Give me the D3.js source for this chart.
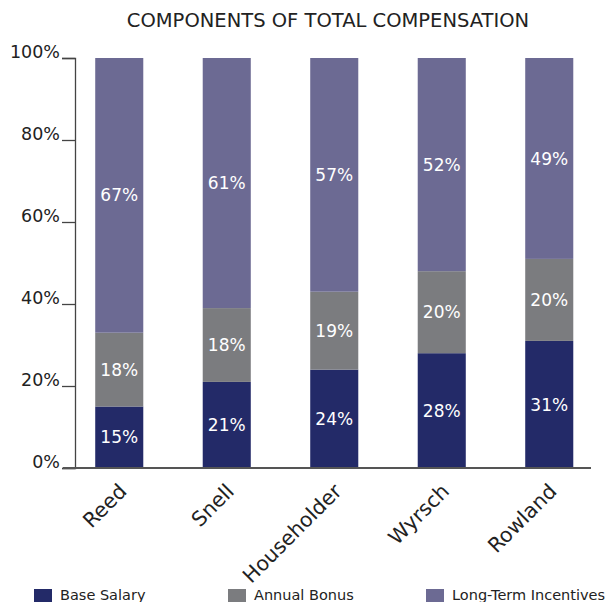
<!DOCTYPE html>
<html>
<head>
<meta charset="utf-8">
<script src="https://cdn.jsdelivr.net/npm/d3@7"></script>
<style>
  body { margin: 0; background: #fff; }
  text { font-family: "DejaVu Sans", sans-serif; }
</style>
</head>
<body>
<script>
"use strict";
(function(){
    // chart data
    const people = ["Reed", "Snell", "Householder", "Wyrsch", "Rowland"]
    const baseSalary = [15, 21, 24, 28, 31]
    const annualBonus = [18, 18, 19, 20, 20]
    const longTerm = [67, 61, 57, 52, 49]
    const seriesNames = ["Base Salary", "Annual Bonus", "Long-Term Incentives"]
    const yTicks = [0, 20, 40, 60, 80, 100]

    const colors = ["#232a68", "#7b7c7f", "#6c6a93"]

    const measurements = {
        width: 613,
        height: 602,
        top: 58,
        bottom: 468,
        axisX: 75
    }

    const svg = d3.select('body').append('svg')
        .attr('width', measurements.width)
        .attr('height', measurements.height)

    // build rows for stacking
    const rows = people.map((p, i) => ({
        name: p,
        "Base Salary": baseSalary[i],
        "Annual Bonus": annualBonus[i],
        "Long-Term Incentives": longTerm[i]
    }))
    const stacked = d3.stack().keys(seriesNames)(rows)

    const scaleX = d3.scaleBand()
        .domain(people)
        .range([65.5, 603])
        .paddingInner(0.553)
        .paddingOuter(0.2765)

    const scaleY = d3.scaleLinear()
        .domain([0, 100])
        .range([measurements.bottom, measurements.top])

    // title
    svg.append('text')
        .attr('x', 328)
        .attr('y', 27)
        .attr('text-anchor', 'middle')
        .attr('font-size', 19.5)
        .attr('fill', '#222')
        .text("COMPONENTS OF TOTAL COMPENSATION")

    // bars
    const layers = svg.selectAll('.layer')
        .data(stacked)
        .enter().append('g')
        .attr('class', 'layer')
        .attr('fill', (d, i) => colors[i])

    layers.selectAll('rect')
        .data(d => d)
        .enter().append('rect')
        .attr('x', d => scaleX(d.data.name))
        .attr('y', d => scaleY(d[1]))
        .attr('width', scaleX.bandwidth())
        .attr('height', d => scaleY(d[0]) - scaleY(d[1]))

    // value labels
    layers.selectAll('.val')
        .data(d => d)
        .enter().append('text')
        .attr('class', 'val')
        .attr('x', d => scaleX(d.data.name) + scaleX.bandwidth() / 2)
        .attr('y', d => (scaleY(d[0]) + scaleY(d[1])) / 2)
        .attr('dy', '0.36em')
        .attr('text-anchor', 'middle')
        .attr('font-size', 17)
        .attr('fill', '#fff')
        .text(d => (d[1] - d[0]) + "%")

    // y axis
    const yAxis = d3.axisLeft(scaleY)
        .tickValues(yTicks)
        .tickSize(13)
        .tickPadding(2)
        .tickFormat(d => d + "%")

    const gy = svg.append('g')
        .attr('transform', 'translate(' + measurements.axisX + ',0)')
        .call(yAxis)
    gy.select('.domain').attr('stroke', '#444').attr('stroke-width', 1.3)
    gy.selectAll('.tick line').attr('stroke', '#444').attr('stroke-width', 1.3)
    gy.selectAll('.tick text')
        .attr('font-size', 17.5)
        .attr('fill', '#222')
        .attr('dy', '-0.05em')
        .attr('font-family', '"DejaVu Sans", sans-serif')

    // baseline
    svg.append('line')
        .attr('x1', 63)
        .attr('x2', 591)
        .attr('y1', scaleY(0))
        .attr('y2', scaleY(0))
        .attr('stroke', '#555')
        .attr('stroke-width', 2)

    // x labels, rotated
    svg.selectAll('.xlab')
        .data(people)
        .enter().append('text')
        .attr('class', 'xlab')
        .attr('transform', d => 'translate(' + (scaleX(d) + scaleX.bandwidth() / 2 - 3) + ',481) rotate(-45)')
        .attr('dy', '0.8em')
        .attr('text-anchor', 'end')
        .attr('font-size', 20.5)
        .attr('fill', '#222')
        .text(d => d)

    // legend
    const legendX = [34, 228, 426]
    const legend = svg.selectAll('.legend')
        .data(seriesNames)
        .enter().append('g')
        .attr('class', 'legend')
        .attr('transform', (d, i) => 'translate(' + legendX[i] + ',589)')

    legend.append('rect')
        .attr('width', 18)
        .attr('height', 18)
        .attr('fill', (d, i) => colors[i])

    legend.append('text')
        .attr('x', 26)
        .attr('y', 11)
        .attr('font-size', 14.5)
        .attr('fill', '#222')
        .text(d => d)
})()
</script>
</body>
</html>
